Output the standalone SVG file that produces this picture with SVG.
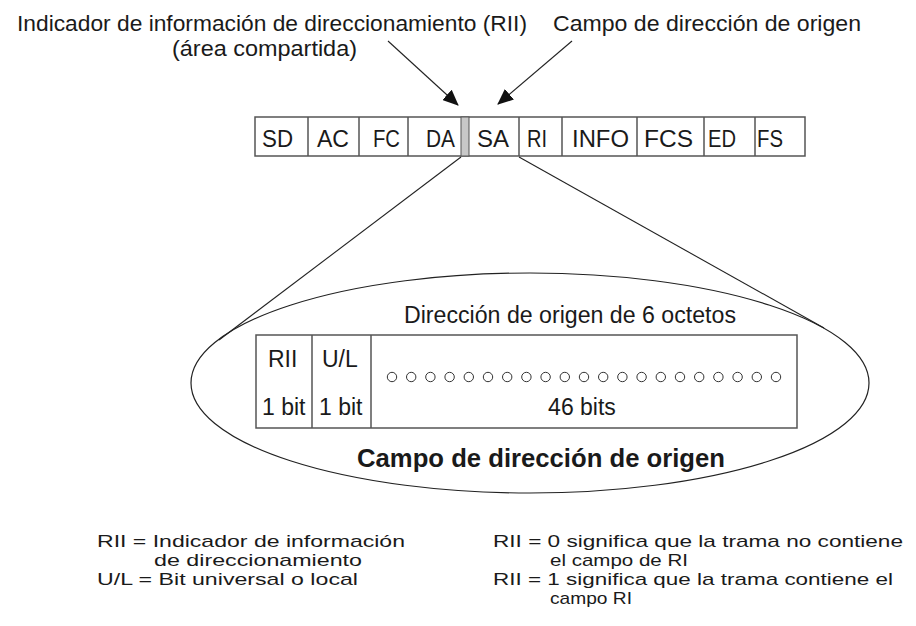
<svg xmlns="http://www.w3.org/2000/svg" width="916" height="626" viewBox="0 0 916 626">
<style>
text{font-family:"Liberation Sans",Arial,Helvetica,sans-serif;fill:#1a1a1a}
.hdr{font-size:22px}
.fr{font-size:24px}
.in{font-size:23px}
.lg{font-size:17px}
.box{fill:#fff;stroke:#555;stroke-width:1.5}
.ln{stroke:#222;stroke-width:1.1;fill:none}
.dot{fill:none;stroke:#333;stroke-width:1}
</style>
<defs>
<marker id="ah" markerUnits="userSpaceOnUse" markerWidth="16" markerHeight="14" refX="15" refY="7" orient="auto">
<path d="M0,0 L16,7 L0,14 Z" fill="#111"/>
</marker>
</defs>
<rect width="916" height="626" fill="#fff"/>

<g id="labels-top">
<text class="hdr" x="17" y="31" textLength="510" lengthAdjust="spacingAndGlyphs">Indicador de información de direccionamiento (RII)</text>
<text class="hdr" x="172" y="56" textLength="185" lengthAdjust="spacingAndGlyphs">(área compartida)</text>
<text class="hdr" x="553" y="31" textLength="308" lengthAdjust="spacingAndGlyphs">Campo de dirección de origen</text>
</g>

<g id="frame">
<rect class="box" x="255" y="117" width="550" height="39"/>
<rect x="461" y="117" width="8" height="39" fill="#c8c8c8" stroke="#555" stroke-width="1"/>
<g stroke="#555" stroke-width="1.5">
<line x1="308" y1="117" x2="308" y2="156"/>
<line x1="359" y1="117" x2="359" y2="156"/>
<line x1="408" y1="117" x2="408" y2="156"/>
<line x1="519" y1="117" x2="519" y2="156"/>
<line x1="562" y1="117" x2="562" y2="156"/>
<line x1="637" y1="117" x2="637" y2="156"/>
<line x1="704" y1="117" x2="704" y2="156"/>
<line x1="755" y1="117" x2="755" y2="156"/>
</g>
<text class="fr" x="262" y="147" textLength="31" lengthAdjust="spacingAndGlyphs">SD</text>
<text class="fr" x="317" y="147" textLength="32" lengthAdjust="spacingAndGlyphs">AC</text>
<text class="fr" x="373" y="147" textLength="27" lengthAdjust="spacingAndGlyphs">FC</text>
<text class="fr" x="426" y="147" textLength="29" lengthAdjust="spacingAndGlyphs">DA</text>
<text class="fr" x="477" y="147" textLength="32" lengthAdjust="spacingAndGlyphs">SA</text>
<text class="fr" x="527" y="147" textLength="20" lengthAdjust="spacingAndGlyphs">RI</text>
<text class="fr" x="572" y="147" textLength="57" lengthAdjust="spacingAndGlyphs">INFO</text>
<text class="fr" x="644" y="147" textLength="49" lengthAdjust="spacingAndGlyphs">FCS</text>
<text class="fr" x="708" y="147" textLength="28" lengthAdjust="spacingAndGlyphs">ED</text>
<text class="fr" x="757" y="147" textLength="26" lengthAdjust="spacingAndGlyphs">FS</text>
</g>

<g id="connectors">
<line class="ln" x1="388" y1="41" x2="458" y2="105" marker-end="url(#ah)"/>
<line class="ln" x1="572" y1="41" x2="498" y2="104" marker-end="url(#ah)"/>
<line class="ln" x1="461" y1="157" x2="219" y2="340"/>
<line class="ln" x1="519" y1="157" x2="824" y2="328"/>
</g>

<g id="zoom-ellipse">
<ellipse cx="530" cy="383" rx="339" ry="110" fill="none" stroke="#222" stroke-width="1.2"/>
<text class="in" x="404" y="323" textLength="332" lengthAdjust="spacingAndGlyphs">Dirección de origen de 6 octetos</text>
<text x="357" y="467" font-size="25" font-weight="bold" textLength="368" lengthAdjust="spacingAndGlyphs">Campo de dirección de origen</text>
</g>

<g id="address-box">
<rect class="box" x="256" y="335" width="541" height="93"/>
<line x1="312" y1="335" x2="312" y2="428" stroke="#555" stroke-width="1.5"/>
<line x1="371" y1="335" x2="371" y2="428" stroke="#555" stroke-width="1.5"/>
<text class="in" x="268" y="367">RII</text>
<text class="in" x="322" y="367">U/L</text>
<text class="in" x="262" y="415">1 bit</text>
<text class="in" x="319" y="415">1 bit</text>
<text class="in" x="582" y="415" text-anchor="middle">46 bits</text>
<g class="dot">
<circle cx="392" cy="377" r="4.7"/><circle cx="411.2" cy="377" r="4.7"/><circle cx="430.4" cy="377" r="4.7"/><circle cx="449.6" cy="377" r="4.7"/><circle cx="468.8" cy="377" r="4.7"/><circle cx="488" cy="377" r="4.7"/><circle cx="507.2" cy="377" r="4.7"/><circle cx="526.4" cy="377" r="4.7"/><circle cx="545.6" cy="377" r="4.7"/><circle cx="564.8" cy="377" r="4.7"/><circle cx="584" cy="377" r="4.7"/><circle cx="603.2" cy="377" r="4.7"/><circle cx="622.4" cy="377" r="4.7"/><circle cx="641.6" cy="377" r="4.7"/><circle cx="660.8" cy="377" r="4.7"/><circle cx="680" cy="377" r="4.7"/><circle cx="699.2" cy="377" r="4.7"/><circle cx="718.4" cy="377" r="4.7"/><circle cx="737.6" cy="377" r="4.7"/><circle cx="756.8" cy="377" r="4.7"/><circle cx="776" cy="377" r="4.7"/>
</g>
</g>

<g id="legend-left">
<text class="lg" x="97" y="547" textLength="308" lengthAdjust="spacingAndGlyphs">RII = Indicador de información</text>
<text class="lg" x="154" y="566" textLength="208" lengthAdjust="spacingAndGlyphs">de direccionamiento</text>
<text class="lg" x="97" y="585" textLength="261" lengthAdjust="spacingAndGlyphs">U/L = Bit universal o local</text>
</g>

<g id="legend-right">
<text class="lg" x="493" y="547" textLength="410" lengthAdjust="spacingAndGlyphs">RII = 0 significa que la trama no contiene</text>
<text class="lg" x="550" y="566" textLength="138" lengthAdjust="spacingAndGlyphs">el campo de RI</text>
<text class="lg" x="493" y="585" textLength="400" lengthAdjust="spacingAndGlyphs">RII = 1 significa que la trama contiene el</text>
<text class="lg" x="550" y="604" textLength="82" lengthAdjust="spacingAndGlyphs">campo RI</text>
</g>
</svg>
